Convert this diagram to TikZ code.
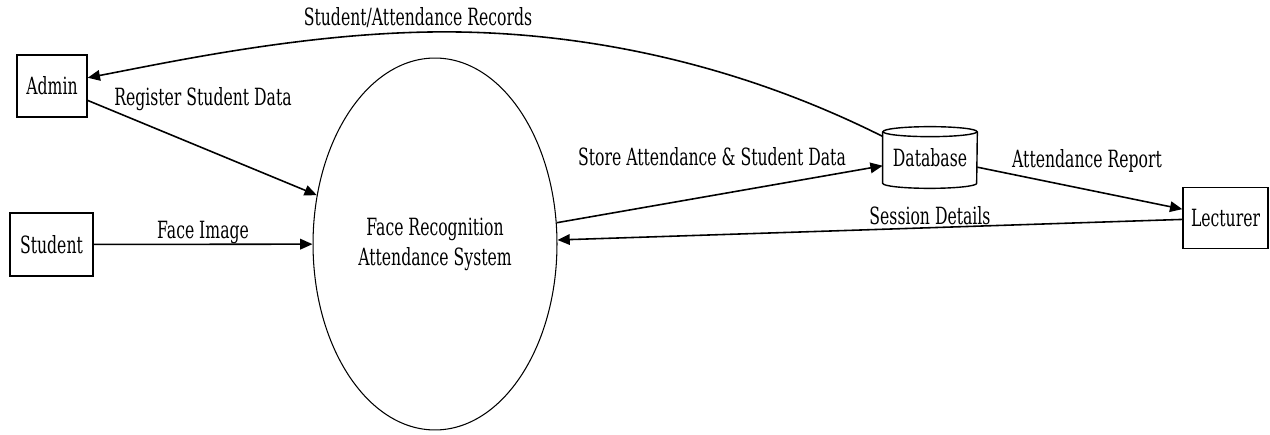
\documentclass[tikz,border=0pt]{standalone}
\usepackage{fontspec}
\setmainfont{DejaVu Serif}[FakeStretch=0.66]
\usetikzlibrary{shapes.geometric,arrows.meta}
\begin{document}
\begin{tikzpicture}[x=0.02cm,y=-0.02cm,
  font=\fontsize{13.5}{16}\selectfont,
  entity/.style={draw,line width=0.8pt,inner sep=0pt},
  flow/.style={-{Triangle[length=7pt,width=6pt]},line width=0.9pt},
  lbl/.style={inner sep=0pt}]
\useasboundingbox (0,0) rectangle (1270,435);
% external entities
\node[entity,minimum width=1.4cm,minimum height=1.24cm]  (admin)   at (52,86)     {Admin};
\node[entity,minimum width=1.66cm,minimum height=1.26cm] (student) at (51.5,244.5) {Student};
\node[entity,minimum width=1.7cm,minimum height=1.22cm]  (lec)     at (1225.5,218) {Lecturer};
% the process
\node[draw,ellipse,line width=0.6pt,inner sep=0pt,minimum width=4.88cm,minimum height=7.44cm,align=center]
  (sys) at (435,244) {Face Recognition\\[1pt]Attendance System};
% data store
\node[minimum width=1.88cm,minimum height=1.22cm,inner sep=0pt] (db) at (930,157.5) {Database};
\draw[line width=0.8pt] ([yshift=-0.1cm]db.north west) -- ([yshift=0.1cm]db.south west)
  arc[start angle=180,end angle=360,x radius=0.94cm,y radius=0.1cm]
  -- ([yshift=-0.1cm]db.north east);
\draw[line width=0.8pt] ([yshift=-0.1cm]db.north) ellipse[x radius=0.94cm,y radius=0.1cm];
% flows
\coordinate (top) at (430,32);
\draw[flow] (db.156) .. controls (720,55) and (560,30) .. (top)
  .. controls (300,34) and (170,62) .. (admin.13);
\draw[flow] (admin.-22) -- (sys);
\draw[flow] (student) -- (sys);
\draw[flow] (sys) -- (db);
\draw[flow] (db) -- (lec);
\draw[flow] (lec) -- (sys);
% flow labels
\node[lbl] (l1) at (418,18)  {Student/Attendance Records};
\node[lbl] (l2) at (203,99)  {Register Student Data};
\node[lbl] (l3) at (203,232) {Face Image};
\node[lbl] (l4) at (712,157) {Store Attendance \& Student Data};
\node[lbl] (l5) at (1087,161) {Attendance Report};
\node[lbl] (l6) at (930,216) {Session Details};
\end{tikzpicture}
\end{document}
